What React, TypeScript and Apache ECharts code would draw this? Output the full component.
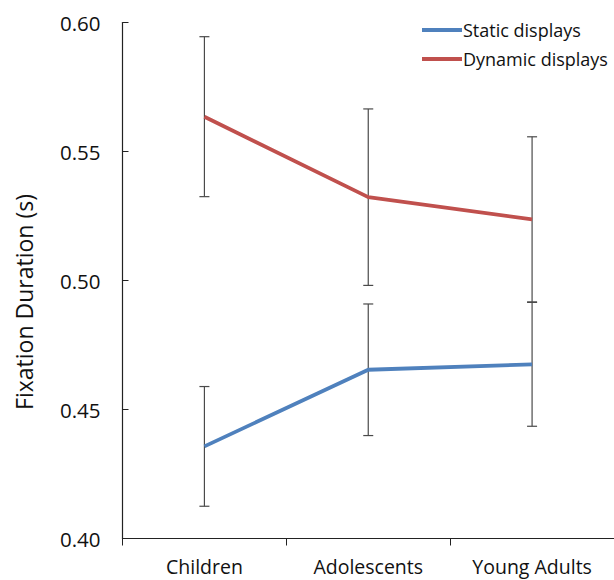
import React, { useEffect, useRef } from "react";
import * as echarts from "echarts";

const categories = ["Children", "Adolescents", "Young Adults"];
const seriesNames = ["Static displays", "Dynamic displays"];
const staticMeans = [0.4357, 0.4654, 0.4675];
const staticErr = [0.0232, 0.0255, 0.024];
const dynamicMeans = [0.5635, 0.5323, 0.5237];
const dynamicErr = [0.031, 0.0342, 0.032];
const yTicks = { min: 0.4, max: 0.6, interval: 0.05 };

const FONT = "'Open Sans', 'Noto Sans', sans-serif";

function errData(means: number[], errs: number[]) {
  return means.map((m, i) => [i, m - errs[i], m + errs[i]]);
}

const renderErr = (params: any, api: any) => {
  const x = api.value(0);
  const lo = api.coord([x, api.value(1)]);
  const hi = api.coord([x, api.value(2)]);
  const cap = 5;
  const style = { stroke: "#4a4a4a", lineWidth: 1.2 };
  return {
    type: "group",
    children: [
      { type: "line", shape: { x1: lo[0], y1: lo[1], x2: hi[0], y2: hi[1] }, style },
      { type: "line", shape: { x1: lo[0] - cap, y1: lo[1], x2: lo[0] + cap, y2: lo[1] }, style },
      { type: "line", shape: { x1: hi[0] - cap, y1: hi[1], x2: hi[0] + cap, y2: hi[1] }, style },
    ],
  };
};

export default function App() {
  const ref = useRef<HTMLDivElement>(null);
  useEffect(() => {
    if (!ref.current) return;
    const chart = echarts.init(ref.current, null, { renderer: "svg" });
    chart.setOption({
      animation: false,
      backgroundColor: "#ffffff",
      textStyle: { fontFamily: FONT },
      grid: { left: 122.5, top: 22.5, width: 499, height: 516, containLabel: false },
      legend: {
        data: seriesNames,
        orient: "vertical",
        left: 417,
        top: 15,
        icon: "rect",
        itemWidth: 40,
        itemHeight: 4,
        itemGap: 9,
        textStyle: { fontFamily: FONT, fontSize: 18, color: "#111", lineHeight: 20, padding: [0, 0, 0, -4] },
      },
      xAxis: {
        type: "category",
        data: categories,
        boundaryGap: true,
        axisLine: { lineStyle: { color: "#222", width: 1.2 } },
        axisTick: { show: true, inside: false, length: 7, lineStyle: { color: "#222" } },
        axisLabel: { fontFamily: FONT, fontSize: 19.5, color: "#111", margin: 19, lineHeight: 18 },
        splitLine: { show: false },
      },
      yAxis: {
        type: "value",
        min: yTicks.min,
        max: yTicks.max,
        interval: yTicks.interval,
        axisLine: { show: true, lineStyle: { color: "#222", width: 1.2 } },
        axisTick: { show: true, inside: true, length: 6, lineStyle: { color: "#222" } },
        axisLabel: {
          fontFamily: FONT,
          fontSize: 20.5,
          color: "#111",
          margin: 22,
          formatter: (v: number) => v.toFixed(2),
        },
        splitLine: { show: false },
      },
      graphic: [
        {
          type: "text",
          x: 24,
          y: 302,
          rotation: Math.PI / 2,
          style: {
            text: "Fixation Duration (s)",
            fontFamily: FONT,
            fontSize: 23,
            fill: "#111",
            align: "center",
            verticalAlign: "middle",
          },
        },
      ],
      series: [
        {
          type: "custom",
          name: "err-static",
          renderItem: renderErr,
          data: errData(staticMeans, staticErr),
          z: 1,
          silent: true,
        },
        {
          type: "custom",
          name: "err-dynamic",
          renderItem: renderErr,
          data: errData(dynamicMeans, dynamicErr),
          z: 1,
          silent: true,
        },
        {
          type: "line",
          name: seriesNames[0],
          data: staticMeans,
          symbol: "none",
          color: "#4F81BD",
          lineStyle: { color: "#4F81BD", width: 3.8 },
          z: 3,
        },
        {
          type: "line",
          name: seriesNames[1],
          data: dynamicMeans,
          symbol: "none",
          color: "#C0504D",
          lineStyle: { color: "#C0504D", width: 3.8 },
          z: 3,
        },
      ],
    });
    return () => chart.dispose();
  }, []);
  return (
    <div
      ref={ref}
      style={{ position: "absolute", left: 0, top: 0, width: 614, height: 580 }}
    />
  );
}
